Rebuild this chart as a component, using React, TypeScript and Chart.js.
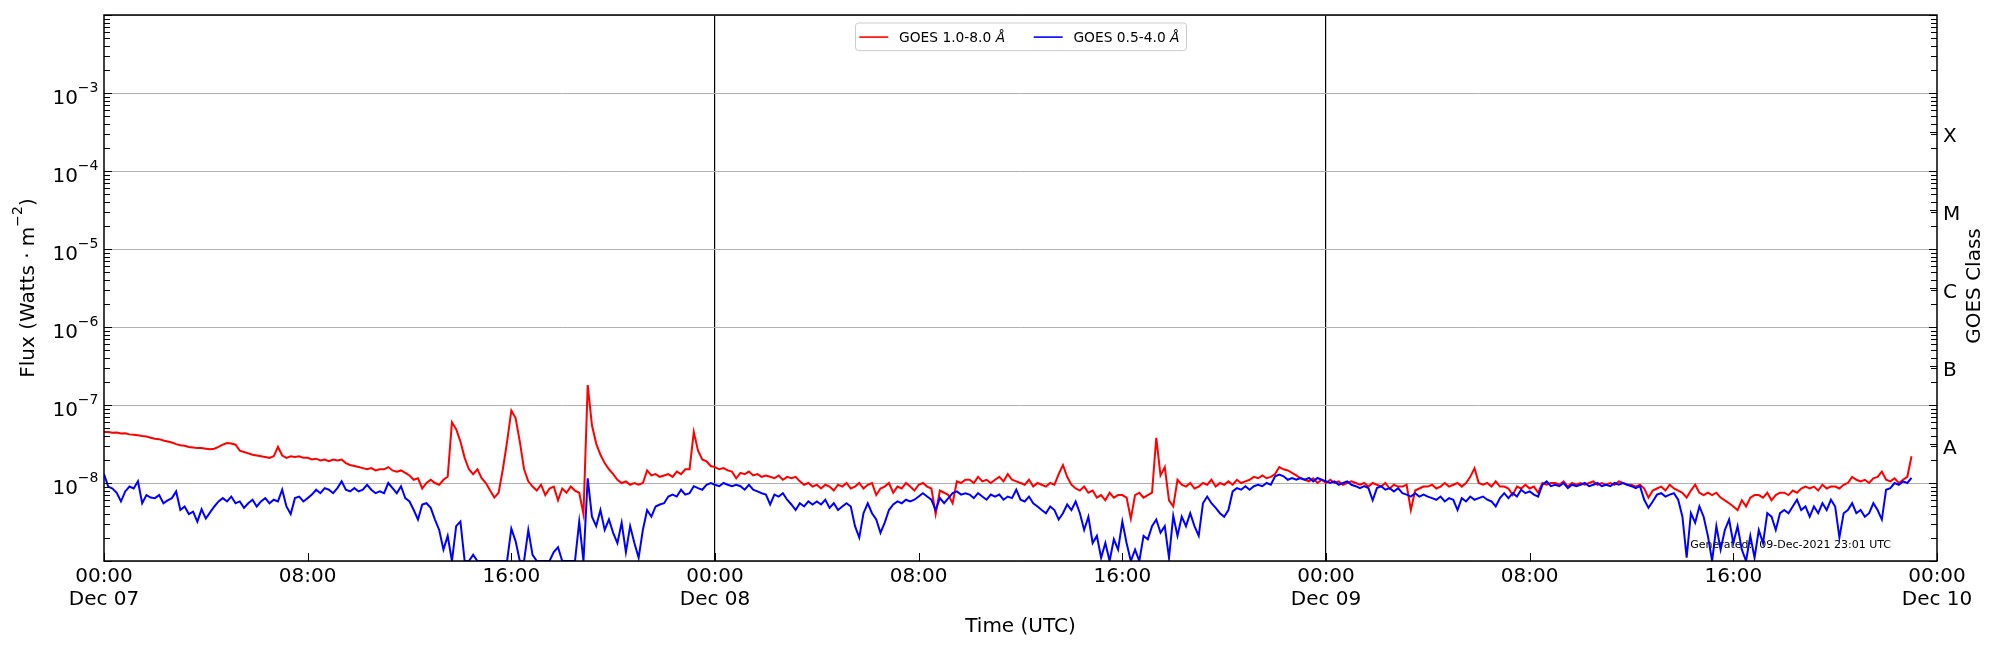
import React, { useEffect, useRef } from "react";
import { Chart, registerables } from "chart.js";

Chart.register(...registerables);

const FONT = '"DejaVu Sans", "Liberation Sans", Arial, sans-serif';

// sampling interval of the series below (minutes), starting 2021-12-07 00:00 UTC
const SAMPLE_MINUTES = 10;

// GOES 1.0-8.0 Å flux, in units of 1e-9 W m^-2, one row per hour (6 samples)
const xrsLongNano = [
  45, 45, 44, 44.5, 43, 43.5, // 00
  42, 41.5, 41, 40, 39.5, 38, // 01
  37, 36.5, 35, 34, 33, 31.5, // 02
  30.5, 30, 29, 28.5, 28, 28, // 03
  27.5, 27, 27.5, 29, 31, 32.5, // 04
  32, 31, 26, 25, 24, 23, // 05
  22.5, 22, 21.5, 21, 22, 29, // 06
  22.5, 21, 22, 21.5, 22, 21, // 07
  21, 20, 20.5, 19.5, 20, 19, // 08
  20, 19.5, 20, 18, 17, 16.5, // 09
  16, 15.5, 15, 15.5, 14.5, 15, // 10
  15, 16, 14.5, 14, 14.5, 13.5, // 11
  12.5, 11, 11.5, 8.5, 10, 11, // 12
  10, 9.5, 11, 12, 60, 49, // 13
  34, 21, 15, 13, 15, 11.5, // 14
  10, 8, 6.5, 7.5, 15, 34, // 15
  85, 68, 34, 15, 10.5, 9, // 16
  8, 9.5, 7, 8.5, 9, 6, // 17
  8.5, 7.5, 9, 8, 7.5, 4, // 18
  180, 55, 32, 23, 18, 15, // 19
  13, 11, 10, 10.5, 9.5, 10, // 20
  9.5, 10, 14.5, 12.5, 13, 12, // 21
  12.5, 13, 12, 14, 13, 15, // 22
  15, 45, 26, 20, 19, 16.5, // 23
  16, 15, 15.5, 14.5, 14, 11.5, // Dec 08 00
  13.5, 13, 14, 12.5, 13, 12, // 01
  12.5, 12, 11.5, 12.5, 11, 12, // 02
  11.5, 12, 10.5, 9.5, 10, 9, // 03
  9.5, 8.5, 9.5, 9, 8, 9.5, // 04
  9, 10, 8.5, 9, 10, 8.5, // 05
  9.5, 10, 7, 8.5, 9, 10, // 06
  7.5, 9, 8.5, 10, 9, 8, // 07
  9.5, 10, 9, 8.5, 4, 8, // 08
  7.5, 7, 5.5, 10.5, 10, 11, // 09
  11, 10, 12, 10.5, 11, 10, // 10
  11, 12, 10.5, 13, 11, 10.5, // 11
  10, 9.5, 11, 9, 10, 9.5, // 12
  9, 10, 9.5, 13, 17, 12, // 13
  9.5, 8.5, 8, 9, 7.5, 8, // 14
  6.5, 7, 6, 7.5, 6.5, 7, // 15
  7, 6.5, 3.5, 7, 7.5, 6.5, // 16
  7, 7.5, 38, 12.5, 16, 6, // 17
  5, 11, 9.5, 9, 10, 8.5, // 18
  9, 10, 9.5, 11, 9, 10, // 19
  9.5, 10.5, 9.5, 11, 10, 10.5, // 20
  11, 12, 11.5, 12.5, 11.5, 12, // 21
  13, 16, 15, 14.5, 13.5, 12.5, // 22
  11.5, 11, 10.5, 11.5, 10, 11, // 23
  10, 11, 10, 10.5, 9.5, 10, // Dec 09 00
  10.5, 10, 9.5, 10, 9, 10, // 01
  9.5, 9, 10, 8.5, 9.5, 9, // 02
  9, 9.5, 4.5, 8, 8.5, 9, // 03
  9, 9.5, 8.5, 9, 10, 9, // 04
  9.5, 10, 9, 10, 12, 15.5, // 05
  10, 9.5, 10, 9, 10.5, 9, // 06
  9, 8.5, 7, 9, 8.5, 9.5, // 07
  8.5, 9, 7.5, 10, 9.5, 10, // 08
  10, 9.5, 10.5, 9, 10, 9.5, // 09
  10, 9.5, 10, 10.5, 9.5, 10, // 10
  9.5, 10, 9.5, 10.5, 10, 9.5, // 11
  9.5, 9, 9.5, 8.5, 6.5, 8, // 12
  8.5, 9, 8, 9.5, 8.5, 8, // 13
  7.5, 6.5, 8, 9.5, 7.5, 7, // 14
  7.5, 7, 7.5, 6.5, 6, 5.5, // 15
  5, 4.5, 6, 5, 6.5, 7, // 16
  7, 6.5, 7.5, 6, 7, 7.5, // 17
  7.5, 7, 8, 7.5, 8.5, 9, // 18
  8.5, 9, 8, 9.5, 8.5, 9, // 19
  9, 8.5, 9.5, 10, 12, 11, // 20
  10.5, 11, 10, 11.5, 12, 14, // 21
  11, 10.5, 11.5, 10, 11, 12, // 22
  22, // 23:00
];

// GOES 0.5-4.0 Å flux, in units of 1e-9 W m^-2 (1 = bottom of the axis)
const xrsShortNano = [
  13, 9, 8.5, 7.5, 5.8, 7.8, // 00
  9, 8.5, 10.5, 5.5, 7, 6.5, // 01
  6.4, 7, 5.5, 6, 6.4, 7.8, // 02
  4.5, 5, 4, 4.3, 3.2, 4.6, // 03
  3.5, 4.2, 5, 5.8, 6.4, 5.8, // 04
  6.7, 5.5, 5.8, 4.8, 5.5, 6.1, // 05
  5, 5.8, 6.4, 5.5, 6.1, 5.8, // 06
  8.2, 5, 4, 6.4, 6.7, 5.8, // 07
  6.4, 7.1, 8.2, 7.4, 8.6, 8.2, // 08
  7.4, 8.6, 10.5, 8.2, 7.8, 8.6, // 09
  7.8, 8.2, 9.5, 8.2, 7.4, 7.8, // 10
  7.4, 10, 8.6, 7.4, 9.1, 6.4, // 11
  5.8, 4.5, 3.4, 5.3, 5.5, 4.8, // 12
  3.4, 2.5, 1.4, 2.1, 1, 2.8, // 13
  3.2, 1, 1, 1.2, 1, 1, // 14
  1, 1, 1, 1, 1, 1, // 15
  2.6, 1.8, 1, 1, 2.5, 1.2, // 16
  1, 1, 1, 1, 1.3, 1.5, // 17
  1, 1, 1, 1, 3.2, 1, // 18
  11.5, 3.7, 2.8, 4.5, 2.5, 3.4, // 19
  2.3, 1.7, 3.1, 1.3, 2.8, 1.7, // 20
  1.1, 2.5, 4.5, 3.7, 5, 5.3, // 21
  5.5, 6.7, 7.1, 6.7, 8.2, 7.1, // 22
  7.4, 9.1, 8.6, 8.2, 9.5, 10, // 23
  9.5, 9.1, 10, 9.5, 9.1, 9.5, // Dec 08 00
  9.1, 8.2, 9.5, 8.2, 7.8, 7.4, // 01
  7.1, 5.3, 7.1, 6.7, 7.4, 6.1, // 02
  5.3, 4.5, 5.5, 5, 5.8, 5.3, // 03
  5.8, 5.3, 6.1, 4.8, 5.5, 4.5, // 04
  5, 5.5, 5, 2.8, 2, 4.1, // 05
  5.5, 4.1, 3.4, 2.3, 3.1, 4.5, // 06
  5.3, 5.8, 5.5, 6.1, 5.8, 6.1, // 07
  6.7, 7.4, 6.7, 6.1, 4.5, 6.4, // 08
  5.5, 6.4, 7.4, 7.8, 7.1, 7.4, // 09
  7.1, 6.4, 7.4, 6.7, 6.1, 7.1, // 10
  6.7, 7.1, 6.1, 6.7, 6.4, 8.2, // 11
  6.1, 5.8, 6.7, 5.5, 5, 4.5, // 12
  4.1, 5, 4.5, 3.4, 4.1, 5.3, // 13
  4.5, 5.8, 4.1, 2.5, 3.7, 1.7, // 14
  2.1, 1.1, 1.7, 1, 1.9, 1.4, // 15
  3.2, 1.7, 1, 1.4, 1, 2.1, // 16
  1.9, 2.8, 3.4, 2.3, 2.8, 1.1, // 17
  3.8, 2.1, 3.7, 2.8, 4.1, 2.8, // 18
  2.1, 5.5, 6.7, 5.5, 4.8, 4.1, // 19
  3.7, 4.5, 7.8, 8.6, 8.2, 9.1, // 20
  8.2, 9.1, 9.5, 9.1, 10, 9.5, // 21
  12.2, 12.8, 12.2, 11, 11.6, 11, // 22
  11.6, 11, 11.6, 10.5, 11.6, 11, // 23
  10.5, 10, 10.5, 9.5, 10, 10.5, // Dec 09 00
  9.5, 9.1, 8.6, 9.1, 8.6, 6, // 01
  8.6, 9.1, 8.2, 8.6, 7.8, 8.6, // 02
  7.4, 7.1, 6.7, 7.4, 6.7, 7.1, // 03
  6.7, 6.4, 6.1, 6.7, 5.8, 6.4, // 04
  6.1, 4.5, 6.4, 5.8, 6.7, 6.1, // 05
  6.4, 6.7, 6.1, 5.8, 5, 6.4, // 06
  7.4, 6.4, 7.4, 6.7, 8.2, 7.4, // 07
  7.8, 7.1, 6.7, 9.5, 10.5, 9.1, // 08
  9.5, 9.1, 10, 8.6, 9.5, 9.1, // 09
  9.5, 10, 9.1, 9.5, 10, 9.1, // 10
  9.5, 9.1, 10, 9.5, 10, 9.5, // 11
  9.1, 8.6, 9.1, 6.1, 4.8, 5.8, // 12
  7.1, 7.4, 6.7, 7.1, 7.4, 6.1, // 13
  3.7, 1.1, 4.1, 3.1, 5, 3.7, // 14
  2.1, 1, 2.8, 1.4, 2.5, 3.4, // 15
  1.7, 2.8, 1.4, 1, 2.1, 1.1, // 16
  2.5, 1.7, 4.1, 3.7, 2.5, 4.1, // 17
  4.5, 4.1, 5, 6.1, 4.5, 5, // 18
  3.7, 5, 4.1, 5.5, 4.5, 6.1, // 19
  5, 2, 4.1, 4.5, 5.5, 4.1, // 20
  4.5, 3.7, 4.1, 5.5, 4.5, 3.4, // 21
  8.2, 8.6, 10, 9.5, 10.5, 10, // 22
  11.6, // 23:00
];

const seriesLabels = ["GOES 1.0-8.0", "GOES 0.5-4.0"];
const seriesUnit = "Å";
const seriesColors = ["#ff0000", "#0000ff"];

const xTickHours = [0, 8, 16, 24, 32, 40, 48, 56, 64, 72];
const xTickLabels = [
  ["00:00", "Dec 07"], ["08:00"], ["16:00"],
  ["00:00", "Dec 08"], ["08:00"], ["16:00"],
  ["00:00", "Dec 09"], ["08:00"], ["16:00"],
  ["00:00", "Dec 10"],
];
const dayBoundaryHours = [24, 48];
const yMin = 1e-9;
const yMax = 1e-2;
const yDecades = [1e-9, 1e-8, 1e-7, 1e-6, 1e-5, 1e-4, 1e-3, 1e-2];
const yTickExponents = [-8, -7, -6, -5, -4, -3];
const goesClasses = ["A", "B", "C", "M", "X"];
const goesClassCenters = [3.1623e-8, 3.1623e-7, 3.1623e-6, 3.1623e-5, 3.1623e-4];
const xTitle = "Time (UTC)";
const yTitle = "Flux (Watts · m";
const yTitleExp = "\u22122";
const y2Title = "GOES Class";
const generatedText = "Generated:  09-Dec-2021 23:01 UTC";

const LINE_WIDTH = 2;

const toPoints = (arr: number[]) =>
  arr.map((v, i) => ({ x: (i * SAMPLE_MINUTES) / 60, y: v * 1e-9 }));

function drawPower(ctx: CanvasRenderingContext2D, exp: number, xRight: number, baseline: number) {
  ctx.font = `20px ${FONT}`;
  const w10 = ctx.measureText("10").width;
  ctx.font = `14px ${FONT}`;
  const sup = "\u2212" + String(-exp);
  const ws = ctx.measureText(sup).width;
  const x0 = xRight - w10 - ws;
  ctx.font = `20px ${FONT}`;
  ctx.fillText("10", x0, baseline);
  ctx.font = `14px ${FONT}`;
  ctx.fillText(sup, x0 + w10, baseline - 12);
}

const overlayPlugin = {
  id: "goesOverlay",
  beforeDatasetsDraw(chart: any) {
    const ctx = chart.ctx as CanvasRenderingContext2D;
    const a = chart.chartArea;
    ctx.save();
    ctx.fillStyle = "#000";
    ctx.font = `11px ${FONT}`;
    ctx.textAlign = "right";
    ctx.textBaseline = "alphabetic";
    ctx.fillText(generatedText, a.right - 46, a.bottom - 13);
    ctx.restore();
  },
  afterDraw(chart: any) {
    const ctx = chart.ctx as CanvasRenderingContext2D;
    const a = chart.chartArea;
    const xs = chart.scales.x;
    const ys = chart.scales.y;
    const ys2 = chart.scales.y2;
    ctx.save();

    // ticks (inward)
    ctx.strokeStyle = "#000";
    ctx.lineWidth = 1;
    ctx.beginPath();
    for (const h of xTickHours) {
      const px = Math.round(xs.getPixelForValue(h)) + 0.5;
      ctx.moveTo(px, a.bottom);
      ctx.lineTo(px, a.bottom - 8);
    }
    for (const d of yDecades) {
      const py = Math.round(ys.getPixelForValue(d)) + 0.5;
      ctx.moveTo(a.left, py);
      ctx.lineTo(a.left + 8, py);
      const py2 = Math.round(ys2.getPixelForValue(d)) + 0.5;
      ctx.moveTo(a.right, py2);
      ctx.lineTo(a.right - 8, py2);
      if (d < yMax) {
        for (let m = 2; m <= 9; m++) {
          const v = m * d;
          const q = Math.round(ys.getPixelForValue(v)) + 0.5;
          ctx.moveTo(a.left, q);
          ctx.lineTo(a.left + 6, q);
          const q2 = Math.round(ys2.getPixelForValue(v)) + 0.5;
          ctx.moveTo(a.right, q2);
          ctx.lineTo(a.right - 6, q2);
        }
      }
    }
    for (const c of goesClassCenters) {
      const q = Math.round(ys2.getPixelForValue(c)) + 0.5;
      ctx.moveTo(a.right, q);
      ctx.lineTo(a.right - 7, q);
    }
    ctx.stroke();

    // frame
    ctx.lineWidth = 1.5;
    ctx.strokeRect(a.left, a.top, a.right - a.left, a.bottom - a.top);

    ctx.fillStyle = "#000";
    ctx.textBaseline = "alphabetic";

    // y tick labels
    ctx.textAlign = "left";
    for (const e of yTickExponents) {
      const py = ys.getPixelForValue(Math.pow(10, e));
      drawPower(ctx, e, a.left - 5.5, py + 10.5);
    }

    // GOES class labels
    ctx.font = `20px ${FONT}`;
    ctx.textAlign = "left";
    goesClasses.forEach((lab, i) => {
      const py = ys2.getPixelForValue(goesClassCenters[i]);
      ctx.fillText(lab, a.right + 6, py + 10);
    });

    // x tick labels
    ctx.textAlign = "center";
    ctx.font = `20px ${FONT}`;
    xTickHours.forEach((h, i) => {
      const px = xs.getPixelForValue(h);
      const lines = xTickLabels[i];
      lines.forEach((t, k) => {
        ctx.fillText(t, px, a.bottom + 21.3 + k * 23);
      });
    });

    // x title
    ctx.fillText(xTitle, (a.left + a.right) / 2, 631.7);

    // y title (rotated) with superscript
    const midY = (a.top + a.bottom) / 2;
    ctx.save();
    ctx.translate(33.5, midY);
    ctx.rotate(-Math.PI / 2);
    ctx.textAlign = "left";
    ctx.font = `20px ${FONT}`;
    const w1 = ctx.measureText(yTitle).width;
    const w3 = ctx.measureText(")").width;
    ctx.font = `14px ${FONT}`;
    const w2 = ctx.measureText(yTitleExp).width;
    let sx = -(w1 + w2 + w3) / 2;
    ctx.font = `20px ${FONT}`;
    ctx.fillText(yTitle, sx, 0);
    sx += w1;
    ctx.font = `14px ${FONT}`;
    ctx.fillText(yTitleExp, sx, -12);
    sx += w2;
    ctx.font = `20px ${FONT}`;
    ctx.fillText(")", sx, 0);
    ctx.restore();

    // right title
    ctx.save();
    ctx.translate(1980, midY - 2);
    ctx.rotate(-Math.PI / 2);
    ctx.textAlign = "center";
    ctx.font = `20px ${FONT}`;
    ctx.fillText(y2Title, 0, 0);
    ctx.restore();

    // legend
    const cx = (a.left + a.right) / 2;
    const bx = cx - 165.5;
    const by = a.top + 7.5;
    const bw = 331;
    const bh = 27.6;
    ctx.beginPath();
    (ctx as any).roundRect(bx + 0.5, by + 0.5, bw, bh, 3);
    ctx.fillStyle = "rgba(255,255,255,0.8)";
    ctx.fill();
    ctx.strokeStyle = "#cccccc";
    ctx.lineWidth = 1;
    ctx.stroke();
    const itemOffsets = [4.3, 178.7];
    seriesLabels.forEach((lab, i) => {
      const lx = bx + itemOffsets[i];
      const ly = by + 14.6;
      ctx.strokeStyle = seriesColors[i];
      ctx.lineWidth = 1.6;
      ctx.beginPath();
      ctx.moveTo(lx, ly);
      ctx.lineTo(lx + 29, ly);
      ctx.stroke();
      ctx.fillStyle = "#000";
      ctx.textAlign = "left";
      ctx.font = `13.8px ${FONT}`;
      const tx = lx + 39.7;
      const txt = lab + " ";
      ctx.fillText(txt, tx, by + 19.7);
      const tw = ctx.measureText(txt).width;
      ctx.font = `italic 13.8px ${FONT}`;
      ctx.fillText(seriesUnit, tx + tw, by + 19.7);
    });

    ctx.restore();
  },
};

export default function App() {
  const ref = useRef<HTMLCanvasElement>(null);
  useEffect(() => {
    const canvas = ref.current;
    if (!canvas) return;
    const chart = new Chart(canvas, {
      type: "line",
      data: {
        datasets: [
          {
            label: seriesLabels[1],
            data: toPoints(xrsShortNano),
            borderColor: seriesColors[1],
            borderWidth: LINE_WIDTH,
            pointRadius: 0,
            tension: 0,
            fill: false,
          },
          {
            label: seriesLabels[0],
            data: toPoints(xrsLongNano),
            borderColor: seriesColors[0],
            borderWidth: LINE_WIDTH,
            pointRadius: 0,
            tension: 0,
            fill: false,
          },
        ],
      },
      options: {
        responsive: false,
        animation: false,
        devicePixelRatio: 1,
        events: [],
        parsing: false,
        layout: { padding: { top: 15, left: 0, right: 0, bottom: 0 } },
        plugins: {
          legend: { display: false },
          title: { display: false },
          tooltip: { enabled: false },
        },
        scales: {
          x: {
            type: "linear",
            min: 0,
            max: 72,
            afterBuildTicks: (s: any) => {
              s.ticks = xTickHours.map((v) => ({ value: v }));
            },
            ticks: { display: false },
            grid: {
              drawTicks: false,
              lineWidth: 1.2,
              color: (c: any) =>
                c.tick && dayBoundaryHours.includes(c.tick.value) ? "#000000" : "rgba(0,0,0,0)",
            },
            border: { display: false },
            afterFit: (s: any) => {
              s.height = 89;
            },
          },
          y: {
            type: "logarithmic",
            position: "left",
            min: yMin,
            max: yMax,
            afterBuildTicks: (s: any) => {
              s.ticks = yDecades.map((v) => ({ value: v }));
            },
            ticks: { display: false },
            grid: { drawTicks: false, color: "#b0b0b0", lineWidth: 1 },
            border: { display: false },
            afterFit: (s: any) => {
              s.width = 104;
            },
          },
          y2: {
            type: "logarithmic",
            position: "right",
            min: yMin,
            max: yMax,
            ticks: { display: false },
            grid: { display: false, drawTicks: false },
            border: { display: false },
            afterFit: (s: any) => {
              s.width = 63;
            },
          },
        },
      },
      plugins: [overlayPlugin],
    } as any);
    return () => chart.destroy();
  }, []);
  return (
    <div style={{ position: "fixed", left: 0, top: 0, width: 2000, height: 650, background: "#ffffff" }}>
      <canvas ref={ref} width={2000} height={650} style={{ display: "block", width: 2000, height: 650 }} />
    </div>
  );
}
